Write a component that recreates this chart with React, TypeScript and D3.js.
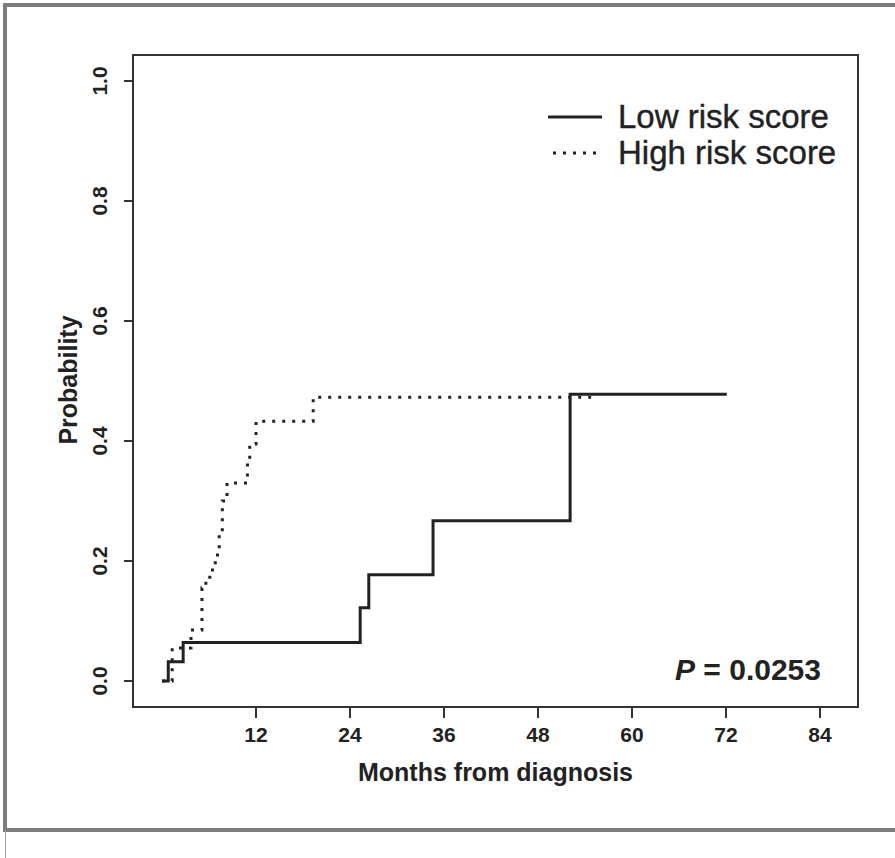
import React from "react";
import * as d3 from "d3";

// cumulative probability curves (months, probability)
const lowTimes = [0, 0.8, 2.7, 25.3, 26.4, 34.6, 52.1, 72.1];
const lowProb = [0, 0.032, 0.064, 0.122, 0.177, 0.267, 0.478, 0.478];

const highTimes = [0, 1.3, 3.7, 5.1, 5.6, 6.1, 6.8, 7.3, 7.7, 8.3, 10.9, 11.2, 12.0, 19.3, 55.3];
const highProb = [0, 0.055, 0.085, 0.155, 0.17, 0.185, 0.21, 0.245, 0.3, 0.33, 0.36, 0.395, 0.433, 0.473, 0.473];

const xTicks = [12, 24, 36, 48, 60, 72, 84];
const yTicks = [0, 0.2, 0.4, 0.6, 0.8, 1.0];

const legendLabels = ["Low risk score", "High risk score"];
const pValue = "0.0253";

const font = "'Liberation Sans', Arial, sans-serif";

const box = { left: 133, right: 858, top: 55, bottom: 707 };

export default function App() {
  const x = d3.scaleLinear().domain([0, 84]).range([162, 820]);
  const y = d3.scaleLinear().domain([0, 1]).range([681, 81]);

  const line = d3
    .line<[number, number]>()
    .x((d) => x(d[0]))
    .y((d) => y(d[1]))
    .curve(d3.curveStepAfter);

  const lowPath = line(lowTimes.map((t, i) => [t, lowProb[i]]));
  const highPath = line(highTimes.map((t, i) => [t, highProb[i]]));

  return (
    <svg
      width={895}
      height={858}
      style={{ position: "fixed", left: 0, top: 0, background: "#fff" }}
    >
      {/* outer frame */}
      <rect x={5} y={5} width={900} height={825} fill="#fff" stroke="#7d7d7d" strokeWidth={4} />
      <line x1={5.5} x2={5.5} y1={830} y2={858} stroke="#a0a0a0" strokeWidth={1} />

      {/* plot box */}
      <rect
        x={box.left}
        y={box.top}
        width={box.right - box.left}
        height={box.bottom - box.top}
        fill="none"
        stroke="#333"
        strokeWidth={2}
      />

      {/* y axis */}
      {yTicks.map((t) => (
        <g key={t}>
          <line x1={box.left - 9} x2={box.left} y1={y(t)} y2={y(t)} stroke="#333" strokeWidth={2} />
          <text
            transform={`translate(${box.left - 26},${y(t)}) rotate(-90)`}
            textAnchor="middle"
            fontFamily={font}
            fontWeight="bold"
            fontSize={21}
            fill="#222"
          >
            {t.toFixed(1)}
          </text>
        </g>
      ))}
      <text
        transform={`translate(77,380) rotate(-90)`}
        textAnchor="middle"
        fontFamily={font}
        fontWeight="bold"
        fontSize={25}
        fill="#222"
      >
        Probability
      </text>

      {/* x axis */}
      {xTicks.map((t) => (
        <g key={t}>
          <line x1={x(t)} x2={x(t)} y1={box.bottom} y2={box.bottom + 11} stroke="#333" strokeWidth={2} />
          <text
            x={x(t)}
            y={box.bottom + 35}
            textAnchor="middle"
            fontFamily={font}
            fontWeight="bold"
            fontSize={21}
            fill="#222"
          >
            {t}
          </text>
        </g>
      ))}
      <text
        x={(box.left + box.right) / 2}
        y={781}
        textAnchor="middle"
        fontFamily={font}
        fontWeight="bold"
        fontSize={25}
        fill="#222"
      >
        Months from diagnosis
      </text>

      {/* curves */}
      <path d={highPath ?? ""} fill="none" stroke="#222" strokeWidth={3} strokeDasharray="3,7" />
      <path d={lowPath ?? ""} fill="none" stroke="#222" strokeWidth={3} />

      {/* legend */}
      <line x1={548} x2={602} y1={117} y2={117} stroke="#222" strokeWidth={3} />
      <line x1={553} x2={602} y1={153} y2={153} stroke="#222" strokeWidth={3} strokeDasharray="3,7" />
      <text x={618} y={128} fontFamily={font} fontSize={33} fill="#222" stroke="#222" strokeWidth={0.4}>
        {legendLabels[0]}
      </text>
      <text x={618} y={164} fontFamily={font} fontSize={33} fill="#222" stroke="#222" strokeWidth={0.4}>
        {legendLabels[1]}
      </text>

      {/* p value */}
      <text x={821} y={680} textAnchor="end" fontFamily={font} fontWeight="bold" fontSize={30} fill="#222">
        <tspan fontStyle="italic">P</tspan>
        <tspan> = {pValue}</tspan>
      </text>
    </svg>
  );
}
